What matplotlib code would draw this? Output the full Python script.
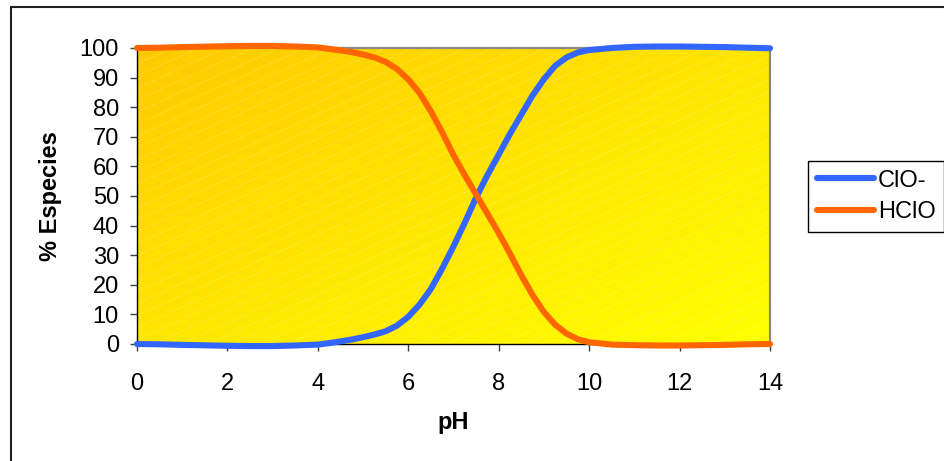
import numpy as np
import matplotlib.pyplot as plt
from matplotlib.colors import LinearSegmentedColormap
from matplotlib.patches import Rectangle

plt.rcParams['font.family'] = ['Liberation Sans', 'DejaVu Sans']

# % of each chlorine species vs pH
ph = [0, 0.5, 1, 1.5, 2, 2.5, 3, 3.5, 4, 4.25, 4.5, 4.75, 5, 5.25, 5.5,
      5.75, 6, 6.25, 6.5, 6.75, 7, 7.25, 7.5, 7.75, 8, 8.25, 8.5, 8.75,
      9, 9.25, 9.5, 9.75, 10, 10.5, 11, 11.5, 12, 12.5, 13, 13.5, 14]
clo = [0.0, -0.1, -0.3, -0.45, -0.6, -0.7, -0.7, -0.5, -0.2, 0.3, 0.9,
       1.5, 2.3, 3.2, 4.3, 6.2, 9.2, 13.3, 18.6, 25.5, 33.0, 41.0, 49.5,
       57.0, 64.0, 71.0, 77.5, 84.0, 89.5, 94.0, 96.8, 98.5, 99.3, 100.0,
       100.4, 100.5, 100.5, 100.4, 100.3, 100.1, 99.9]
hclo = [100.0, 100.1, 100.3, 100.45, 100.6, 100.7, 100.7, 100.5, 100.2,
        99.7, 99.2, 98.6, 97.8, 96.8, 95.3, 92.9, 89.4, 84.8, 78.6, 71.5,
        63.8, 57.0, 50.5, 44.0, 37.5, 30.5, 23.2, 16.5, 10.8, 6.5, 3.5,
        1.6, 0.6, -0.2, -0.4, -0.5, -0.5, -0.4, -0.3, -0.1, 0.0]

fig = plt.figure(figsize=(9.44, 4.61), dpi=100)
ax = fig.add_axes([0.1451, 0.2538, 0.6706, 0.6421])

# orange-to-yellow diagonal gradient behind the plot
gx, gy = np.meshgrid(np.linspace(0, 1, 300), np.linspace(1, 0, 150))
grad = (gx + (1 - gy)) / 2
cmap = LinearSegmentedColormap.from_list('ye', ['#FFCA00', '#FFE600', '#FFFF00'])
ax.imshow(grad, cmap=cmap, extent=[0, 1, 0, 1], transform=ax.transAxes,
          aspect='auto', zorder=0, interpolation='bilinear')

# faint white diagonal dashes
for y0 in np.arange(-1.2, 1.05, 0.0405):
    ax.plot([0, 1], [y0, y0 + 0.96], transform=ax.transAxes, color='white',
            lw=0.6, alpha=0.3, ls=(0, (3, 2)), zorder=1)

ax.plot(ph, clo, color='#3366FF', lw=4.4, solid_capstyle='round',
        solid_joinstyle='round', clip_on=False, zorder=3, label='ClO-')
ax.plot(ph, hclo, color='#FF6600', lw=4.4, solid_capstyle='round',
        solid_joinstyle='round', clip_on=False, zorder=3, label='HClO')

ax.set_xlim(0, 14)
ax.set_ylim(0, 100)
ax.set_xticks(range(0, 15, 2))
ax.set_yticks(range(0, 101, 10))
ax.tick_params(labelsize=17, length=5, width=1, color='#404040')
ax.tick_params(axis='y', pad=8)
ax.tick_params(axis='x', pad=16)

for side in ['left', 'bottom']:
    ax.spines[side].set_color('black')
    ax.spines[side].set_linewidth(1)
for side in ['top', 'right']:
    ax.spines[side].set_color('#888888')
    ax.spines[side].set_linewidth(1.6)

ax.set_xlabel('pH', fontsize=17, fontweight='bold')
ax.set_ylabel('% Especies', fontsize=17, fontweight='bold')
ax.xaxis.set_label_coords(0.5, -0.225)
ax.yaxis.set_label_coords(-0.118, 0.5)

fig.legend(loc='center left', bbox_to_anchor=(0.856, 0.574), fontsize=17,
           frameon=True, fancybox=False, edgecolor='black', framealpha=1,
           handlelength=2.4, handletextpad=0.17, borderpad=0.38,
           labelspacing=0.4, borderaxespad=0)

# chart area frame
fig.patches.append(Rectangle((11 / 944, -0.1), 1.2, (461 - 7) / 461 + 0.1,
                             transform=fig.transFigure, fill=False,
                             edgecolor='#222222', lw=1.5))

fig.savefig('out.png', dpi=100)
